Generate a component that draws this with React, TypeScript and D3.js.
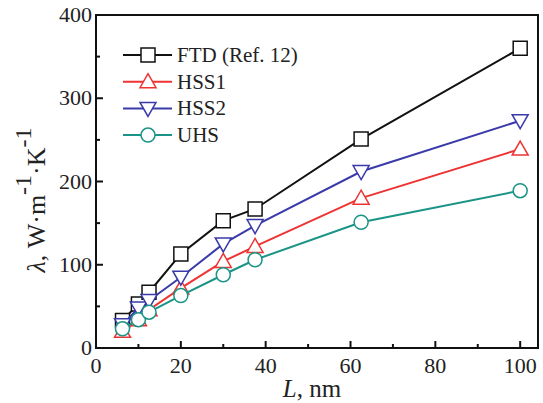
import React, { useEffect, useRef } from 'react';
import * as d3 from 'd3';

// thickness vs. L
const lengths = [6.25, 10, 12.5, 20, 30, 37.5, 62.5, 100];
const ftd = [33, 53, 67, 113, 153, 167, 251, 360];
const hss1 = [20, 34, 46, 72, 104, 122, 180, 239];
const hss2 = [28, 48, 57, 85, 125, 147, 212, 273];
const uhs = [23, 34, 43, 63, 88, 106, 151, 189];

const seriesNames = ['FTD (Ref. 12)', 'HSS1', 'HSS2', 'UHS'];
const seriesColors = ['#111111', '#ee3333', '#3a3aaa', '#1a9486'];
const seriesShapes = ['square', 'up', 'down', 'circle'];

const xTicks = [0, 20, 40, 60, 80, 100];
const yTicks = [0, 100, 200, 300, 400];

const FONT = '"Liberation Serif", "Times New Roman", serif';

function markerPath(shape: string, s: number) {
  const h = s / 2;
  if (shape === 'square') return `M${-h},${-h}H${h}V${h}H${-h}Z`;
  if (shape === 'up') return `M0,${-h - 1}L${h + 1},${h - 1}L${-h - 1},${h - 1}Z`;
  if (shape === 'down') return `M0,${h + 1}L${h + 1},${-h + 1}L${-h - 1},${-h + 1}Z`;
  return d3.arc()({ innerRadius: 0, outerRadius: h, startAngle: 0, endAngle: 2 * Math.PI } as any) as string;
}

function App() {
  const svgRef = useRef<SVGSVGElement>(null);

  useEffect(() => {
    if (!svgRef.current) return;
    const width = 543;
    const height = 403;
    const margin = { top: 15, right: 5, bottom: 55, left: 96 };

    const svg = d3.select(svgRef.current);
    svg.selectAll('*').remove();

    const x = d3.scaleLinear().domain([0, 104.2]).range([margin.left, width - margin.right]);
    const y = d3.scaleLinear().domain([0, 400]).range([height - margin.bottom, margin.top]);

    const g = svg.append('g');

    // frame
    g.append('rect')
      .attr('x', x(0))
      .attr('y', y(400))
      .attr('width', x(104.2) - x(0))
      .attr('height', y(0) - y(400))
      .attr('fill', 'none')
      .attr('stroke', '#111')
      .attr('stroke-width', 2);

    // x ticks (inward)
    d3.range(10, 104, 10).forEach(v => {
      const major = v % 20 === 0;
      g.append('line')
        .attr('x1', x(v)).attr('x2', x(v))
        .attr('y1', y(0)).attr('y2', y(0) - (major ? 7 : 4))
        .attr('stroke', '#111').attr('stroke-width', 2);
    });
    xTicks.forEach(v => {
      g.append('text')
        .attr('x', x(v))
        .attr('y', y(0) + 25)
        .attr('text-anchor', 'middle')
        .attr('font-family', FONT)
        .attr('font-size', 22)
        .attr('fill', '#222')
        .text(v);
    });

    // y ticks (inward)
    d3.range(50, 400, 50).forEach(v => {
      const major = v % 100 === 0;
      g.append('line')
        .attr('x1', x(0)).attr('x2', x(0) + (major ? 7 : 4))
        .attr('y1', y(v)).attr('y2', y(v))
        .attr('stroke', '#111').attr('stroke-width', 2);
    });
    yTicks.forEach(v => {
      g.append('text')
        .attr('x', x(0) - 4)
        .attr('y', y(v) + 7)
        .attr('text-anchor', 'end')
        .attr('font-family', FONT)
        .attr('font-size', 22)
        .attr('fill', '#222')
        .text(v);
    });

    // axis titles
    const xl = g.append('text')
      .attr('x', 312)
      .attr('y', 397)
      .attr('text-anchor', 'middle')
      .attr('font-family', FONT)
      .attr('font-size', 25)
      .attr('fill', '#222');
    xl.append('tspan').attr('font-style', 'italic').text('L');
    xl.append('tspan').text(', nm');

    const yl = g.append('text')
      .attr('transform', 'translate(45,200) rotate(-90)')
      .attr('text-anchor', 'middle')
      .attr('font-family', FONT)
      .attr('font-size', 26)
      .attr('fill', '#222');
    yl.append('tspan').attr('font-style', 'italic').text('λ');
    yl.append('tspan').text(', W·m');
    yl.append('tspan').attr('dy', -14).attr('font-size', 24).text('-1');
    yl.append('tspan').attr('dy', 14).text('·K');
    yl.append('tspan').attr('dy', -14).attr('font-size', 24).text('-1');

    const allSeries = [ftd, hss1, hss2, uhs];
    const line = d3.line<number>()
      .x((_, i) => x(lengths[i]))
      .y(d => y(d));

    allSeries.forEach((vals, si) => {
      g.append('path')
        .attr('d', line(vals))
        .attr('fill', 'none')
        .attr('stroke', seriesColors[si])
        .attr('stroke-width', 2);
      vals.forEach((v, i) => {
        g.append('path')
          .attr('d', markerPath(seriesShapes[si], 14))
          .attr('transform', `translate(${x(lengths[i])},${y(v)})`)
          .attr('fill', '#fff')
          .attr('stroke', seriesColors[si])
          .attr('stroke-width', 1.5);
      });
    });

    // legend
    seriesNames.forEach((name, si) => {
      const cy = 55 + si * 26.7;
      g.append('line')
        .attr('x1', 123).attr('x2', 172)
        .attr('y1', cy).attr('y2', cy)
        .attr('stroke', seriesColors[si])
        .attr('stroke-width', 2);
      g.append('path')
        .attr('d', markerPath(seriesShapes[si], 14))
        .attr('transform', `translate(148,${cy})`)
        .attr('fill', '#fff')
        .attr('stroke', seriesColors[si])
        .attr('stroke-width', 1.5);
      g.append('text')
        .attr('x', 177)
        .attr('y', cy + 7)
        .attr('font-family', FONT)
        .attr('font-size', 21)
        .attr('fill', '#222')
        .text(name);
    });
  }, []);

  return (
    <div style={{ position: 'absolute', left: 0, top: 0 }}>
      <svg ref={svgRef} width={543} height={403} style={{ display: 'block', background: '#fff' }}></svg>
    </div>
  );
}

export default App;
